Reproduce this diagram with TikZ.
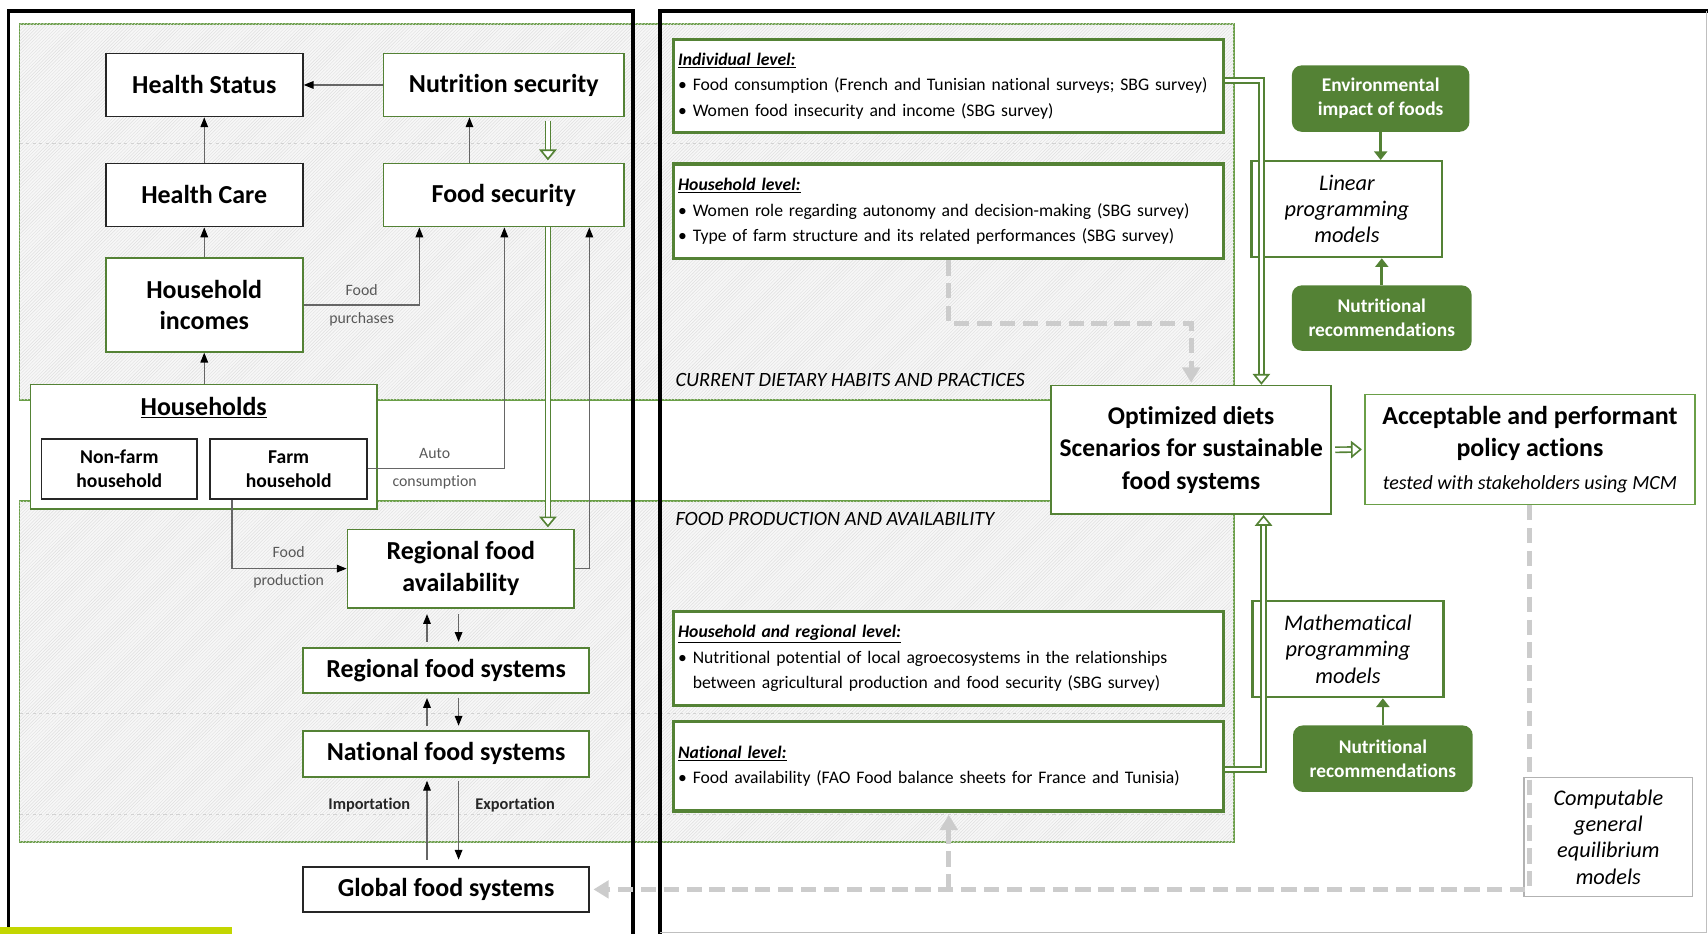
\documentclass[tikz,border=0pt]{standalone}
\usepackage{fontspec}
\setmainfont{Carlito}[Ligatures=NoCommon]
\usepackage{xcolor}
\definecolor{leaf}{HTML}{548235}
\definecolor{bandgreen}{HTML}{6A9F47}
\definecolor{lime}{HTML}{C3D600}
\usepackage{tikz}
\usetikzlibrary{positioning,arrows.meta,patterns,calc}
\newcommand{\levelhead}[1]{\textbf{\textit{\underline{#1}}}}

\begin{document}
\begin{tikzpicture}
	[x=1pt,y=-1pt,
	every node/.style={inner sep=0pt,align=center},
	wh/.style 2 args={minimum width=#1,minimum height=#2},
	band/.style={draw=bandgreen,line width=1.5pt,fill=gray!6,postaction={pattern=north east lines,pattern color=gray!25}},
	sep/.style={gray!35,dashed,line width=1pt},
	box/.style={draw=black!85,line width=1.6pt,fill=white,font=\fontsize{23.8}{29}\selectfont\bfseries},
	gbox/.style={box,draw=leaf},
	subbox/.style={box,font=\fontsize{18}{22}\selectfont\bfseries},
	info/.style={draw=leaf,line width=3pt,fill=white,anchor=north west,align=left,
		text width=497pt,inner xsep=4pt,minimum width=503,font=\fontsize{16.2}{23.5}\selectfont},
	model/.style={draw=leaf,line width=2.2pt,fill=white,font=\fontsize{20.5}{24}\selectfont\itshape},
	fact/.style={fill=leaf,rounded corners=9pt,text=white,font=\fontsize{17.8}{22}\selectfont\bfseries},
	tag/.style={text=black!65,font=\fontsize{14.5}{16}\selectfont},
	bandlabel/.style={anchor=west,font=\fontsize{18.6}{20}\selectfont\itshape},
	flow/.style={draw=black!60,line width=1pt,-{Triangle[length=9pt,width=7pt,color=black]}},
	dbl/.style={draw=leaf,line width=1.5pt,double=white,double distance=3.2pt,
		-{Triangle[open,fill=white,length=10pt,width=16pt,line width=1.5pt]}},
	gtip/.style={draw=leaf,line width=2.5pt,-{Triangle[length=8pt,width=12pt]}},
	gdash/.style={draw=gray!40,line width=4.5pt,dash pattern=on 14pt off 7pt,-{Triangle[length=14pt,width=16pt]}}]
	\useasboundingbox (0,0) rectangle (1568,857);
	\path[band] (18,22) rectangle (1133,367);
	\path[band] (18,460) rectangle (1133,773);
	\draw[sep] (18,132) -- (1133,132);
	\draw[sep] (18,655) -- (1133,655);
	\draw[sep] (18,748) -- (1133,748);
	\draw[line width=3pt] (8,857) -- (8,10) -- (581,10) -- (581,857);
	\draw[line width=3pt] (606,857) -- (606,10) -- (1568,10);
	\draw[gray!50,line width=0.8pt] (606,856) -- (1567,856) -- (1567,10);
	\fill[lime] (0,851) rectangle (213,857);
	\node[bandlabel] (current) at (620,349) {CURRENT DIETARY HABITS AND PRACTICES};
	\node[bandlabel] (production) at (620,476) {FOOD PRODUCTION AND AVAILABILITY};

	\node[box,wh={181}{58}] (hstat) at (187.5,78) {Health Status};
	\node[gbox,wh={221}{58}] (nsec) at (462.5,78) {Nutrition security};
	\node[box,wh={181}{58}] (hcare) at (187.5,179) {Health Care};
	\node[gbox,wh={221}{58}] (fsec) at (462.5,179) {Food security};
	\node[gbox,wh={181}{86}] (hinc) at (187.5,280) {Household\\incomes};
	\node[gbox,wh={318}{114}] (hholds) at (187,410) {};
	\node[font=\fontsize{23.8}{26}\selectfont\bfseries] (htitle) at (187,374) {\underline{Households}};
	\node[subbox,wh={143}{55}] (nonfarm) at (109.5,430.5) {Non-farm\\household};
	\node[subbox,wh={144}{55}] (farm) at (265,430.5) {Farm\\household};
	\node[gbox,wh={208}{72}] (rfa) at (423,522) {Regional food\\availability};
	\node[gbox,wh={263}{41}] (rfs) at (409.5,615.5) {Regional food systems};
	\node[gbox,wh={263}{42}] (nfs) at (409.5,692) {National food systems};
	\node[box,wh={263}{41}] (gfs) at (409.5,816.5) {Global food systems};

	\draw[flow] (nsec) -- (hstat);
	\draw[flow] (hcare) -- (hstat);
	\draw[flow] (hinc) -- (hcare);
	\draw[flow] (hinc.south |- hholds.north) -- (hinc.south);
	\draw[flow] ([xshift=-31.5pt]fsec.north) -- ([xshift=-31.5pt]nsec.south);
	\draw[flow] (hinc.east) -| ([xshift=-77.5pt]fsec.south);
	\draw[flow] (farm.east) -| ([xshift=0.5pt]fsec.south);
	\draw[flow] (rfa.east) -- ++(14,0) -| ([xshift=78.5pt]fsec.south);
	\draw[flow] ([xshift=-52pt]farm.south) |- (rfa.west);
	\draw[dbl,shorten <=3pt,shorten >=2pt] ([xshift=40.5pt]nsec.south) -- ([xshift=40.5pt]fsec.north);
	\draw[dbl,shorten >=1pt] ([xshift=40.5pt]fsec.south) -- ([xshift=40.5pt]fsec.south |- rfa.north);
	\draw[flow,shorten <=5pt,shorten >=5pt] ([xshift=-17.5pt]rfs.north) -- ([xshift=-17.5pt]rfs.north |- rfa.south);
	\draw[flow,shorten <=5pt,shorten >=5pt] ([xshift=11.5pt]rfs.north |- rfa.south) -- ([xshift=11.5pt]rfs.north);
	\draw[flow,shorten <=4pt,shorten >=4pt] ([xshift=-17.5pt]nfs.north) -- ([xshift=-17.5pt]rfs.south);
	\draw[flow,shorten <=4pt,shorten >=4pt] ([xshift=11.5pt]rfs.south) -- ([xshift=11.5pt]nfs.north);
	\draw[flow,shorten <=6pt,shorten >=3pt] ([xshift=-17.5pt]gfs.north) -- ([xshift=-17.5pt]nfs.south);
	\draw[flow,shorten <=3pt,shorten >=6pt] ([xshift=11.5pt]nfs.south) -- ([xshift=11.5pt]gfs.north);
	\node[tag] (purch1) at (332,266) {Food};
	\node[tag] (purch2) at (332,293) {purchases};
	\node[tag] (auto1) at (399,416) {Auto};
	\node[tag] (auto2) at (399,443) {consumption};
	\node[tag] (prod1) at (265,507) {Food};
	\node[tag] (prod2) at (265,534) {production};
	\node[tag,text=black!85,font=\fontsize{15}{16}\selectfont\bfseries] (import) at (339,739) {Importation};
	\node[tag,text=black!85,font=\fontsize{15}{16}\selectfont\bfseries] (export) at (473,739) {Exportation};

	\node[info,minimum height=85] (indiv) at (617,35) {\levelhead{Individual level:}\\
		\textbullet\ Food consumption (French and Tunisian national surveys; SBG survey)\\
		\textbullet\ Women food insecurity and income (SBG survey)};
	\node[info,minimum height=87] (hlevel) at (617,149) {\levelhead{Household level:}\\
		\textbullet\ Women role regarding autonomy and decision-making (SBG survey)\\
		\textbullet\ Type of farm structure and its related performances (SBG survey)};
	\node[info,minimum height=86] (hrlevel) at (617,560) {\levelhead{Household and regional level:}\\
		\textbullet\ Nutritional potential of local agroecosystems in the relationships\\
		\phantom{\textbullet\ }between agricultural production and food security (SBG survey)};
	\node[info,minimum height=82] (natlevel) at (617,661) {\levelhead{National level:}\\
		\textbullet\ Food availability (FAO Food balance sheets for France and Tunisia)};

	\node[fact,wh={163}{61}] (envimp) at (1267.5,90.5) {Environmental\\impact of foods};
	\node[model,wh={175}{88}] (linprog) at (1236.5,192) {Linear\\programming\\models};
	\node[fact,wh={165}{60}] (nutr1) at (1268.5,292) {Nutritional\\recommendations};
	\node[model,wh={175}{88}] (mathprog) at (1237.5,596) {Mathematical\\programming\\models};
	\node[fact,wh={165}{61}] (nutr2) at (1269.5,696.5) {Nutritional\\recommendations};
	\node[model,draw=gray!60,line width=1.2pt,wh={155}{109}] (cge) at (1476.5,768.5) {Computable\\general\\equilibrium\\models};
	\node[gbox,line width=1.5pt,wh={257}{118},font=\fontsize{23.4}{30}\selectfont\bfseries] (optim) at (1093.5,413) {Optimized diets\\Scenarios for sustainable\\food systems};
	\node[gbox,draw=bandgreen,line width=1.5pt,wh={303}{101},font=\fontsize{23.8}{30}\selectfont\bfseries] (accept) at (1404.5,412.5)
		{Acceptable and performant\\policy actions\\{\fontsize{18.4}{20}\selectfont\mdseries\itshape tested with stakeholders using MCM}};

	\draw[gtip] (envimp.south) -- (envimp.south |- linprog.north);
	\draw[gtip] (nutr1.north) -- (nutr1.north |- linprog.south);
	\draw[gtip] (nutr2.north) -- (nutr2.north |- mathprog.south);
	\draw[dbl] ([yshift=5pt]indiv.east) -| ([xshift=64.5pt]optim.north);
	\draw[dbl] ([yshift=-3pt]natlevel.east) -| ([xshift=66.5pt]optim.south);
	\draw[dbl,shorten <=3pt,shorten >=2pt] (optim.east) -- (accept.west);
	\draw[gdash,shorten >=2pt] (hlevel.south) -- ++(0,58) -| (optim.north);
	\draw[gdash,shorten >=3pt] (accept.south) |- (gfs.east);
	\draw[gdash,shorten >=2pt] (natlevel.south |- gfs.east) -- (natlevel.south);
\end{tikzpicture}
\end{document}
